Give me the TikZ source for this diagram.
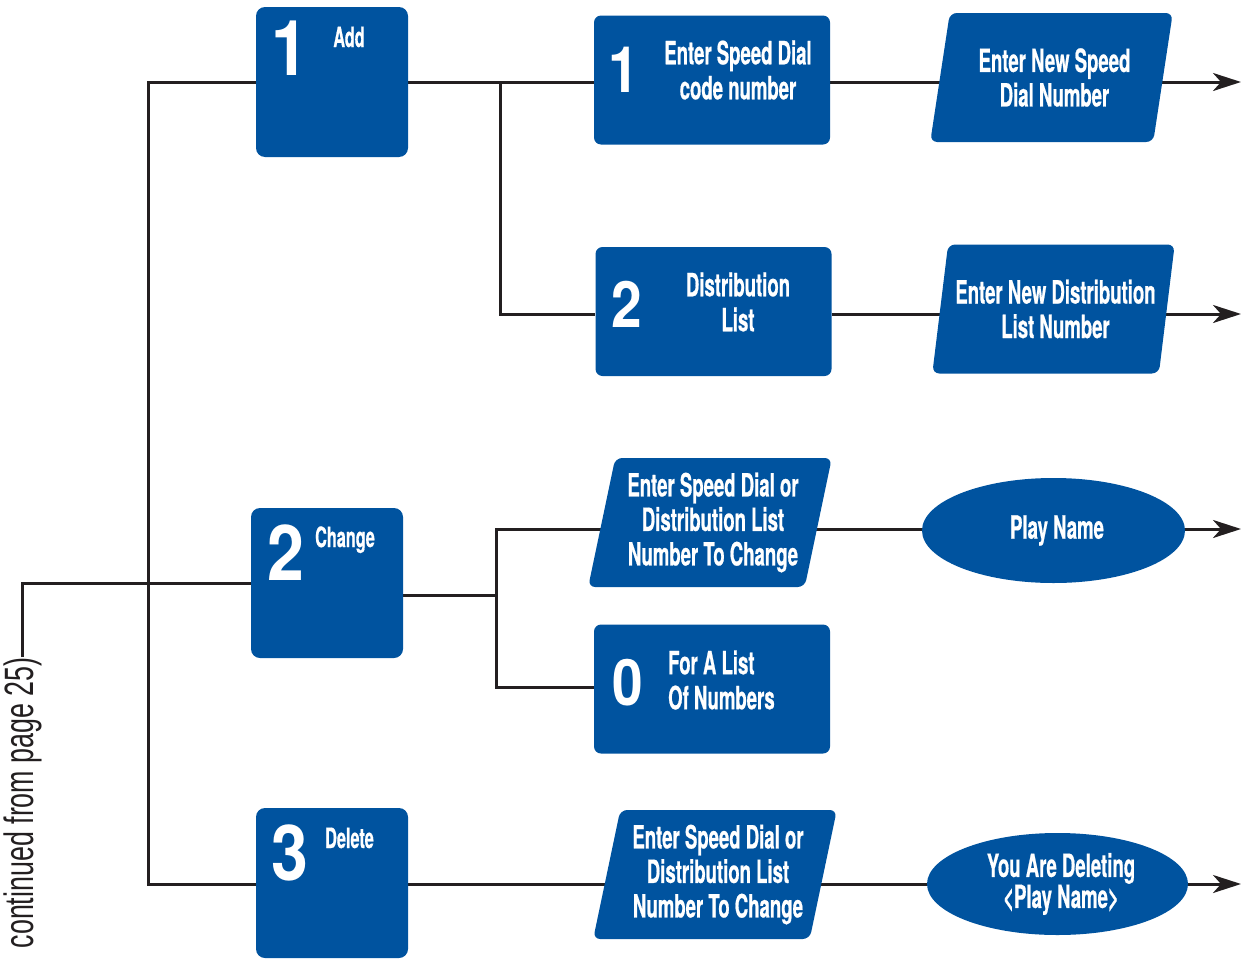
\documentclass[tikz,border=0pt]{standalone}
\usepackage{fontspec}
\setmainfont{TeX Gyre Heros}
\newfontfamily\condfont[FakeStretch=0.58,BoldFeatures={FakeBold=0.6}]{TeX Gyre Heros}
\newfontfamily\digitfont[FakeStretch=0.86]{TeX Gyre Heros}
\newfontfamily\notefont[FakeStretch=0.655]{Liberation Sans}
\usetikzlibrary{arrows.meta,shapes.geometric,backgrounds}
\definecolor{keyblue}{RGB}{0,83,159}
\definecolor{wirecol}{RGB}{35,31,32}

\begin{document}
\begin{tikzpicture}[x=1pt,y=-1pt,
  keybox/.style={rectangle,rounded corners=9pt,fill=keyblue,minimum width=152pt,minimum height=150pt,inner sep=0pt},
  optbox/.style={rectangle,rounded corners=7pt,fill=keyblue,minimum width=236pt,minimum height=129pt,inner sep=0pt},
  pgram/.style={trapezium,trapezium left angle=76,trapezium right angle=104,trapezium stretches=true,
    fill=keyblue,rounded corners=7pt,minimum width=243pt,minimum height=129pt,inner sep=2pt,
    text=white,align=center,font=\condfont\bfseries\fontsize{32}{34.5}\selectfont},
  oval/.style={ellipse,fill=keyblue,inner sep=0pt,text=white,align=center,
    font=\condfont\bfseries\fontsize{32}{31}\selectfont},
  bignum/.style={text=white,inner sep=0pt,anchor=base,font=\digitfont\bfseries\fontsize{77}{77}\selectfont},
  midnum/.style={text=white,inner sep=0pt,anchor=base,font=\digitfont\bfseries\fontsize{64}{64}\selectfont},
  keylabel/.style={text=white,inner sep=0pt,anchor=base,font=\condfont\bfseries\fontsize{28}{28}\selectfont},
  bodytext/.style={text=white,inner sep=0pt,align=center,font=\condfont\bfseries\fontsize{32}{35}\selectfont},
  wire/.style={draw=wirecol,line width=3pt},
  flow/.style={wire,-{Stealth[length=28pt,width=18pt,inset=8pt]}}
]
\useasboundingbox (0,0) rectangle (1243,961);

% keypad choices
\node[keybox] (add) at (332,82) {};
\node[bignum] (add-n) at (290,75) {1};
\node[keylabel] (add-l) at (349,47) {Add};

\node[keybox] (chg) at (327,583) {};
\node[bignum] (chg-n) at (286,580) {2};
\node[keylabel] (chg-l) at (345,547) {Change};

\node[keybox] (del) at (332,883) {};
\node[bignum] (del-n) at (290,880) {3};
\node[keylabel] (del-l) at (349.5,848) {Delete};

% second-level options
\node[optbox] (esd) at (712,80) {};
\node[midnum] (esd-n) at (624,92) {1};
\node[bodytext] (esd-t) at (738,70) {Enter Speed Dial\\code number};

\node[optbox] (dist) at (713.5,311.5) {};
\node[midnum] (dist-n) at (627,327) {2};
\node[bodytext] (dist-t) at (738,302) {Distribution\\List};

\node[optbox] (lst) at (712,689) {};
\node[midnum] (lst-n) at (628,705) {0};
\node[bodytext,align=left,anchor=west] (lst-t) at (668,680) {For A List\\Of Numbers};

% prompts and announcements
\node[pgram] (pg1) at (1051.5,77.5) {\hspace*{6pt}Enter New Speed\\\hspace*{6pt}Dial Number};
\node[pgram] (pg2) at (1053.5,309) {\hspace*{4pt}Enter New Distribution\\\hspace*{4pt}List Number};
\node[pgram,minimum width=244pt] (pg3) at (710,522.5) {\hspace*{6pt}Enter Speed Dial or\\\hspace*{6pt}Distribution List\\\hspace*{6pt}Number To Change};
\node[pgram,minimum width=244pt] (pg4) at (715,874.5) {\hspace*{6pt}Enter Speed Dial or\\\hspace*{6pt}Distribution List\\\hspace*{6pt}Number To Change};
\node[oval,minimum width=263pt,minimum height=105pt] (ply) at (1053.5,530.5) {\raisebox{-4pt}{\hspace*{7pt}Play Name}};
\node[oval,minimum width=261pt,minimum height=102pt] (ydel) at (1057.5,884) {\hspace*{7pt}You Are Deleting\\\hspace*{7pt}<Play Name>};

% side note
\node[rotate=90,anchor=base east,inner sep=0pt,text=wirecol,
  font=\notefont\fontsize{41}{41}\selectfont] (cont) at (33,657) {continued from page 25)};

% row levels, junctions and outgoing ends
\coordinate (r1) at (0,82);
\coordinate (r2) at (0,314);
\coordinate (r3) at (0,529);
\coordinate (r4) at (0,687);
\coordinate (r5) at (0,884);
\coordinate (t1) at (148,82);
\coordinate (t5) at (148,884);
\coordinate (j1) at (500,82);
\coordinate (j2) at (496,595);
\coordinate (o1) at (1241,82);
\coordinate (o2) at (1241,314);
\coordinate (o3) at (1241,529);
\coordinate (o5) at (1241,884);

\begin{scope}[on background layer]
  \draw[wire] (cont.east) |- (chg.west);
  \draw[wire] (add.west |- t1) -- (t1) -- (t5) -- (del.west |- t5);
  % Add branch
  \draw[wire] (add.east |- r1) -- (esd.west |- r1);
  \draw[wire] (j1) |- (dist.west |- r2);
  \draw[wire] (esd.east |- r1) -- (pg1.center |- r1);
  \draw[flow] (pg1.center |- r1) -- (o1);
  \draw[wire] (dist.east |- r2) -- (pg2.center |- r2);
  \draw[flow] (pg2.center |- r2) -- (o2);
  % Change branch
  \draw[wire] (chg.east |- j2) -- (j2);
  \draw[wire] (pg3.center |- r3) -| (j2) |- (lst.west |- r4);
  \draw[wire] (pg3.center |- r3) -- (ply.center |- r3);
  \draw[flow] (ply.center |- r3) -- (o3);
  % Delete branch
  \draw[wire] (del.east |- r5) -- (pg4.center |- r5);
  \draw[wire] (pg4.center |- r5) -- (ydel.center |- r5);
  \draw[flow] (ydel.center |- r5) -- (o5);
\end{scope}
\end{tikzpicture}
\end{document}
